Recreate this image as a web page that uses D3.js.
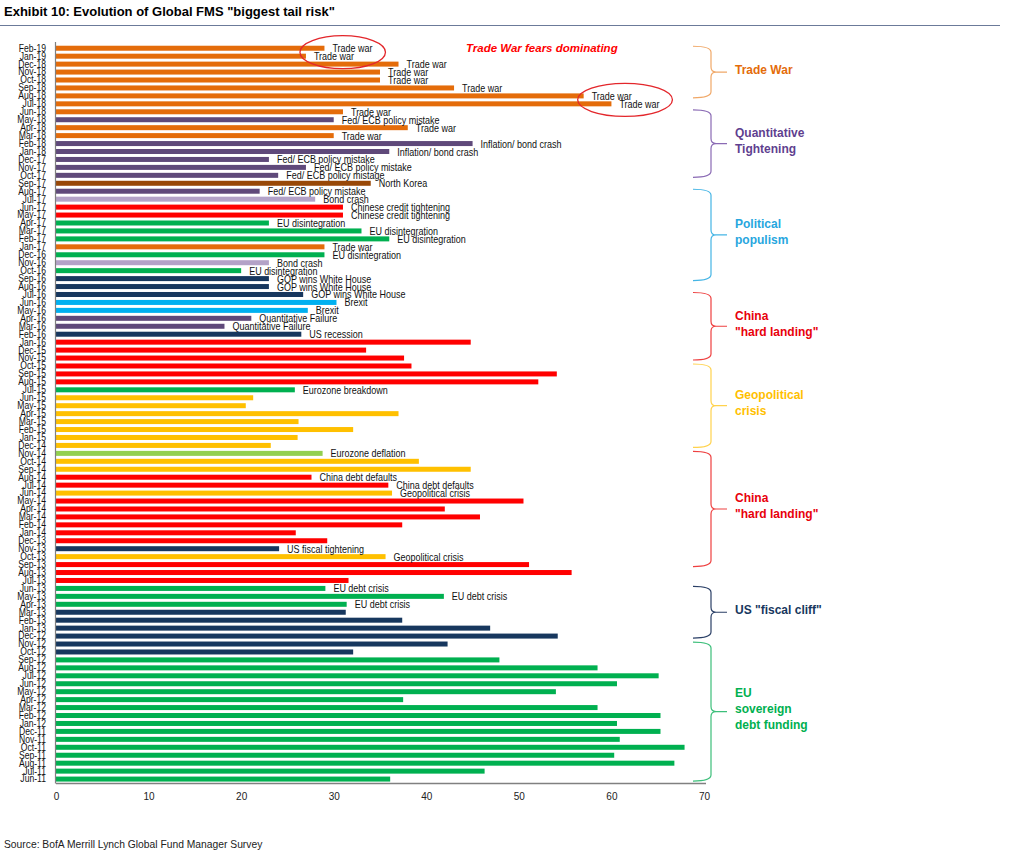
<!DOCTYPE html>
<html>
<head>
<meta charset="utf-8">
<script src="https://cdn.jsdelivr.net/npm/d3@7"></script>
<style>
  html, body { margin: 0; padding: 0; background: #fff; }
  svg { display: block; font-family: "Liberation Sans", Arial, sans-serif; }
</style>
</head>
<body>
<svg id="chart" width="1010" height="858"></svg>
<script>
// ---------- DATA ----------
const months = ["Feb-19","Jan-19","Dec-18","Nov-18","Oct-18","Sep-18","Aug-18","Jul-18","Jun-18","May-18","Apr-18","Mar-18","Feb-18","Jan-18",
"Dec-17","Nov-17","Oct-17","Sep-17","Aug-17","Jul-17","Jun-17","May-17","Apr-17","Mar-17","Feb-17","Jan-17",
"Dec-16","Nov-16","Oct-16","Sep-16","Aug-16","Jul-16","Jun-16","May-16","Apr-16","Mar-16","Feb-16","Jan-16",
"Dec-15","Nov-15","Oct-15","Sep-15","Aug-15","Jul-15","Jun-15","May-15","Apr-15","Mar-15","Feb-15","Jan-15",
"Dec-14","Nov-14","Oct-14","Sep-14","Aug-14","Jul-14","Jun-14","May-14","Apr-14","Mar-14","Feb-14","Jan-14",
"Dec-13","Nov-13","Oct-13","Sep-13","Aug-13","Jul-13","Jun-13","May-13","Apr-13","Mar-13","Feb-13","Jan-13",
"Dec-12","Nov-12","Oct-12","Sep-12","Aug-12","Jul-12","Jun-12","May-12","Apr-12","Mar-12","Feb-12","Jan-12",
"Dec-11","Nov-11","Oct-11","Sep-11","Aug-11","Jul-11","Jun-11"];

const values = [29,27,37,35,35,43,57,60,31,30,38,30,45,36,
23,27,24,34,22,28,31,31,23,33,36,29,
29,23,20,23,23,26.7,30.3,27.2,21.1,18.2,26.5,44.8,
33.5,37.6,38.4,54.1,52.1,25.8,21.3,20.5,37,26.2,32.1,26.1,
23.2,28.8,39.2,44.8,27.6,35.9,36.3,50.5,42,45.8,37.4,25.9,
29.3,24.1,35.6,51.1,55.7,31.6,29.1,41.9,31.4,31.3,37.4,46.9,
54.2,42.3,32.1,47.9,58.5,65.1,60.6,54,37.5,58.5,65.3,60.6,
65.3,60.9,67.9,60.3,66.8,46.3,36.1];

// risk category of each bar (drives the colour)
const risks = ["tw","tw","tw","tw","tw","tw","tw","tw","tw","fed","tw","tw","fed","fed",
"fed","fed","fed","nk","fed","bond","china","china","eu","eu","eu","tw",
"eu","bond","eu","gop","gop","gop","brexit","brexit","fed","fed","gop","china",
"china","china","china","china","china","eu","geo","geo","geo","geo","geo","geo",
"geo","defl","geo","geo","china","china","geo","china","china","china","china","china",
"china","gop","geo","china","china","china","eu","eu","eu","gop","gop","gop",
"gop","gop","gop","eu","eu","eu","eu","eu","eu","eu","eu","eu",
"eu","eu","eu","eu","eu","eu","eu"];

// text label next to each bar ("" = none)
const barLabels = ["Trade war","Trade war","Trade war","Trade war","Trade war","Trade war","Trade war","Trade war","Trade war",
"Fed/ ECB policy mistake","Trade war","Trade war","Inflation/ bond crash","Inflation/ bond crash",
"Fed/ ECB policy mistake","Fed/ ECB policy mistake","Fed/ ECB policy mistage","North Korea","Fed/ ECB policy mistake","Bond crash",
"Chinese credit tightening","Chinese credit tightening","EU disintegration","EU disintegration","EU disintegration","Trade war",
"EU disintegration","Bond crash","EU disintegration","GOP wins White House","GOP wins White House","GOP wins White House",
"Brexit","Brexit","Quantitative Failure","Quantitative Failure","US recession","",
"","","","","","Eurozone breakdown","","","","","","",
"","Eurozone deflation","","","China debt defaults","China debt defaults","Geopolitical crisis","","","","","",
"","US fiscal tightening","Geopolitical crisis","","","","EU debt crisis","EU debt crisis","EU debt crisis","","","",
"","","","","","","","","","","","",
"","","","","","",""];

const xTicks = [0,10,20,30,40,50,60,70];

const riskColors = {
  tw: "#E46C0A", fed: "#5F497A", bond: "#B3A2C7", nk: "#984807",
  china: "#FF0000", eu: "#00B050", gop: "#17375E", brexit: "#00B0F0",
  geo: "#FFC000", defl: "#92D050"
};

// right-hand brackets: [text lines, colour, first month, last month]
const bracketLines = [["Trade War"],["Quantitative","Tightening"],["Political","populism"],["China","\"hard landing\""],
  ["Geopolitical","crisis"],["China","\"hard landing\""],["US \"fiscal cliff\""],["EU","sovereign","debt funding"]];
const bracketTextColors = ["#E46C0A","#5F3F8F","#27A6DE","#E8000B","#FFC000","#E8000B","#17375E","#00B050"];
const bracketStrokeColors = ["#F0A868","#8A6AB4","#45B5E5","#EE4040","#FFD24D","#EE4040","#2A3F66","#3CBF7A"];
const bracketFrom = ["Feb-19","Jun-18","Aug-17","Jul-16","Oct-15","Nov-14","Jun-13","Nov-12"];
const bracketTo   = ["Aug-18","Oct-17","Sep-16","Nov-15","Dec-14","Sep-13","Dec-12","Jun-11"];

// ---------- CHART ----------
const svg = d3.select("#chart");
const x = d3.scaleLinear().domain([0, 70]).range([56, 704]);
const y = d3.scaleBand().domain(months).range([44.3, 783]).paddingInner(0.37).paddingOuter(0.18);

// title
svg.append("text").attr("x", 4).attr("y", 16)
  .attr("font-size", 13).attr("font-weight", "bold").attr("fill", "#000")
  .text('Exhibit 10: Evolution of Global FMS "biggest tail risk"');
svg.append("line").attr("x1", 0).attr("x2", 1000).attr("y1", 25.5).attr("y2", 25.5)
  .attr("stroke", "#6B7A99").attr("stroke-width", 1);

// bars
const data = months.map((m, i) => ({ m, v: values[i], r: risks[i], lab: barLabels[i] }));
svg.append("g").selectAll("rect").data(data).join("rect")
  .attr("x", x(0)).attr("y", d => y(d.m))
  .attr("width", d => x(d.v) - x(0)).attr("height", y.bandwidth())
  .attr("fill", d => riskColors[d.r]);

// bar labels
svg.append("g").selectAll("text").data(data.filter(d => d.lab)).join("text")
  .attr("transform", d => `translate(${x(d.v) + 8},${y(d.m) + y.bandwidth() / 2 + 4}) scale(0.9,1)`)
  .attr("font-size", 10).attr("fill", "#111")
  .text(d => d.lab);

// y axis
const yAxis = svg.append("g").attr("transform", `translate(${x(0)},0)`)
  .call(d3.axisLeft(y).tickSize(0).tickPadding(0));
yAxis.select(".domain").remove();
yAxis.selectAll("text")
  .attr("font-family", "'Liberation Sans', Arial, sans-serif")
  .attr("font-size", 10).attr("fill", "#111")
  .attr("transform", "scale(0.86,1)").attr("x", -10 / 0.86).attr("dy", "0.34em");
svg.append("line").attr("x1", x(0) - 0.5).attr("x2", x(0) - 0.5).attr("y1", 42).attr("y2", 783.5)
  .attr("stroke", "#808080").attr("stroke-width", 1.2);

// x axis
const xAxis = svg.append("g").attr("transform", "translate(0,783)")
  .call(d3.axisBottom(x).tickValues(xTicks).tickSize(0).tickPadding(0));
xAxis.select(".domain").attr("stroke", "#808080").attr("stroke-width", 1.5).attr("d", `M${x(0)},0.5H${x(70) + 2}`);
xAxis.selectAll("text")
  .attr("font-family", "'Liberation Sans', Arial, sans-serif")
  .attr("font-size", 10).attr("fill", "#222")
  .attr("y", 10);

// annotation
svg.append("text").attr("x", 466).attr("y", 52)
  .attr("font-size", 11.5).attr("font-weight", "bold").attr("font-style", "italic")
  .attr("fill", "#FF0000").text("Trade War fears dominating");

// red ellipses round the trade-war peaks (centred on the two labels of each pair)
const ellipsePairs = [["Feb-19","Jan-19"],["Aug-18","Jul-18"]];
ellipsePairs.forEach(pair => {
  const i0 = months.indexOf(pair[0]), i1 = months.indexOf(pair[1]);
  const cy = (y(pair[0]) + y(pair[1]) + y.bandwidth()) / 2;
  const left = Math.min(x(values[i0]), x(values[i1])) - 6;
  const right = Math.max(x(values[i0]), x(values[i1])) + 8 + 41 + 12;
  svg.append("ellipse").attr("cx", (left + right) / 2).attr("cy", cy)
    .attr("rx", (right - left) / 2).attr("ry", 16.5)
    .attr("fill", "none").attr("stroke", "#E3262B").attr("stroke-width", 1.3);
});

// brackets
bracketLines.forEach((lines, i) => {
  const y1 = y(bracketFrom[i]) - y.step() * y.paddingInner() / 2 + 2;
  const y2 = y(bracketTo[i]) + y.bandwidth() + y.step() * y.paddingInner() / 2 - 2;
  const mid = (y1 + y2) / 2;
  const xl = 693, xv = 711, xn = 727;
  const p = `M${xl},${y1} Q${xv},${y1} ${xv},${y1 + 6} V${mid - 5} Q${xv},${mid} ${xv + 5},${mid} H${xn}` +
            ` M${xv + 5},${mid} Q${xv},${mid} ${xv},${mid + 5} V${y2 - 6} Q${xv},${y2} ${xl},${y2}`;
  svg.append("path").attr("d", p).attr("fill", "none")
    .attr("stroke", bracketStrokeColors[i]).attr("stroke-width", 1.2);
  const lh = 16;
  const c = mid - 3;
  lines.forEach((t, k) => {
    svg.append("text").attr("x", 735)
      .attr("y", c + (k - (lines.length - 1) / 2) * lh + 4.5)
      .attr("font-size", 12).attr("font-weight", "bold")
      .attr("fill", bracketTextColors[i]).text(t);
  });
});

// source
svg.append("text").attr("x", 4).attr("y", 848)
  .attr("font-size", 10.3).attr("fill", "#222")
  .text("Source: BofA Merrill Lynch Global Fund Manager Survey");
</script>
</body>
</html>
